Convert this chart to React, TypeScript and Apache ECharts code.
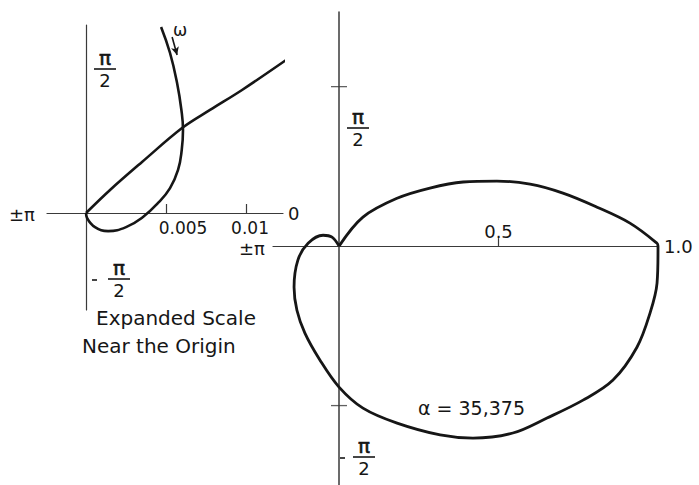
import { useEffect, useRef } from "react";
import * as echarts from "echarts";

// Expanded view near the origin: the spiral branch and the chord
const insetSpiral: [number, number][] = [
  [0, 0], [0.00006, -0.0003], [0.00056, -0.00088], [0.00138, -0.00113],
  [0.0025, -0.00088], [0.00356, -0.00025], [0.0045, 0.00063], [0.00525, 0.00156],
  [0.00575, 0.00269], [0.00598, 0.00394], [0.00606, 0.00519], [0.00596, 0.00644],
  [0.00569, 0.00813], [0.00525, 0.01], [0.00469, 0.01163],
];
const insetChord: [number, number][] = [
  [0, 0], [0.0015, 0.00144], [0.0035, 0.00319], [0.006, 0.00531],
  [0.00775, 0.00644], [0.00975, 0.00769], [0.0125, 0.00956],
];
// Direction of increasing frequency along the spiral
const omegaArrow: [number, number][] = [[0.00538, 0.011], [0.00569, 0.00988]];

// Full-scale locus: upper arc from origin to 1.0, then the lower loop
const upperArc: [number, number][] = [
  [0, 0], [0.075, 0.091], [0.182, 0.15], [0.285, 0.182], [0.389, 0.201],
  [0.495, 0.204], [0.599, 0.194], [0.702, 0.166], [0.809, 0.122],
  [0.912, 0.072], [0.997, 0.009], [1.0, 0],
];
const lowerLoop: [number, number][] = [
  [0, 0], [-0.022, 0.028], [-0.05, 0.034], [-0.097, 0.009], [-0.129, -0.044],
  [-0.141, -0.129], [-0.132, -0.201], [-0.107, -0.273], [-0.06, -0.357],
  [0, -0.442], [0.075, -0.508], [0.182, -0.555], [0.317, -0.592],
  [0.42, -0.602], [0.545, -0.586], [0.652, -0.539], [0.765, -0.483],
  [0.859, -0.42], [0.934, -0.317], [0.975, -0.21], [0.997, -0.116],
  [1.0, -0.013], [1.0, 0],
];

const insetTicks = [0.005, 0.01];
const insetTickLabels = ["0.005", "0.01"];
const mainXTicks = [0.5];
const mainXTickLabels = ["0.5"];
const mainYTicks = [0.5, -0.5];

const FONT = "DejaVu Sans";
const INK = "#161616";
const AXIS = "#3a3a3a";

function fraction(cx: number, barY: number, minusX?: number) {
  const children: any[] = [
    {
      type: "text",
      style: {
        text: "π", x: cx, y: barY - 1, align: "center", verticalAlign: "bottom",
        font: `20px '${FONT}'`, fill: INK, stroke: INK, lineWidth: 0.6,
      },
    },
    {
      type: "line",
      shape: { x1: cx - 11, y1: barY, x2: cx + 11, y2: barY },
      style: { stroke: INK, lineWidth: 1.6 },
    },
    {
      type: "text",
      style: {
        text: "2", x: cx, y: barY + 2, align: "center", verticalAlign: "top",
        font: `18px '${FONT}'`, fill: INK,
      },
    },
  ];
  if (minusX !== undefined) {
    children.push({
      type: "line",
      shape: { x1: minusX, y1: barY + 1, x2: minusX + 5, y2: barY + 1 },
      style: { stroke: INK, lineWidth: 1.6 },
    });
  }
  return { type: "group", children };
}

function label(text: string, x: number, y: number, size: number, align = "left", vAlign = "middle") {
  return {
    type: "text",
    style: {
      text, x, y, align, verticalAlign: vAlign,
      font: `${size}px '${FONT}'`, fill: INK,
    },
  };
}

export default function App() {
  const ref = useRef<HTMLDivElement>(null);

  useEffect(() => {
    if (!ref.current) return;
    const chart = echarts.init(ref.current, undefined, { renderer: "svg" });

    const axisLine = { onZero: true, lineStyle: { color: AXIS, width: 1.2 } };
    const nameStyle = { fontFamily: FONT, fontSize: 18, color: INK };

    chart.setOption({
      animation: false,
      backgroundColor: "#ffffff",
      grid: [
        { left: 47, top: 25, width: 236, height: 285, containLabel: false, outerBoundsMode: "none" },
        { left: 273, top: 12, width: 385, height: 473, containLabel: false, outerBoundsMode: "none" },
      ],
      xAxis: [
        {
          gridIndex: 0, type: "value", min: -0.00244, max: 0.01231, position: "bottom",
          axisLine,
          axisTick: { show: true, inside: true, length: 9, customValues: insetTicks, lineStyle: { color: AXIS, width: 1.2 } },
          axisLabel: { show: false },
          splitLine: { show: false },
          name: "0", nameLocation: "end", nameGap: 5, nameTextStyle: nameStyle,
        },
        {
          gridIndex: 1, type: "value", min: -0.207, max: 1.0, position: "top",
          axisLine,
          axisTick: { show: true, inside: false, length: 8, customValues: mainXTicks, lineStyle: { color: AXIS, width: 1.2 } },
          axisLabel: { show: false },
          splitLine: { show: false },
          name: "1.0", nameLocation: "end", nameGap: 6, nameTextStyle: nameStyle,
        },
      ],
      yAxis: [
        {
          gridIndex: 0, type: "value", min: -0.00606, max: 0.01175,
          axisLine, axisTick: { show: false }, axisLabel: { show: false }, splitLine: { show: false },
        },
        {
          gridIndex: 1, type: "value", min: -0.749, max: 0.734,
          axisLine: { onZero: true, lineStyle: { color: AXIS, width: 1.5 } },
          axisTick: { show: false }, axisLabel: { show: false }, splitLine: { show: false },
        },
      ],
      series: [
        {
          type: "line", xAxisIndex: 0, yAxisIndex: 0, data: insetSpiral, smooth: 0.45,
          symbol: "none", clip: false, lineStyle: { color: INK, width: 2.6 },
          markLine: {
            silent: true, symbol: ["none", "arrow"], symbolSize: [6, 8], label: { show: false },
            lineStyle: { color: INK, width: 1.6, type: "solid" },
            data: [[{ coord: omegaArrow[0] }, { coord: omegaArrow[1] }]],
          },
        },
        {
          type: "line", xAxisIndex: 0, yAxisIndex: 0, data: insetChord, smooth: 0.35,
          symbol: "none", clip: false, lineStyle: { color: INK, width: 2.6 },
        },
        {
          type: "line", xAxisIndex: 1, yAxisIndex: 1, data: upperArc, smooth: 0.35,
          symbol: "none", clip: false, lineStyle: { color: INK, width: 2.8 },
        },
        {
          type: "line", xAxisIndex: 1, yAxisIndex: 1, data: lowerLoop, smooth: 0.35,
          symbol: "none", clip: false, lineStyle: { color: INK, width: 2.8 },
        },
        {
          type: "scatter", xAxisIndex: 1, yAxisIndex: 1,
          data: mainYTicks.map((v) => [0, v]),
          symbol: "rect", symbolSize: [16, 1.3], silent: true,
          itemStyle: { color: AXIS },
        },
      ],
    });

    // Tick labels sit on the zero lines, so place them from the axes' own scales
    const insetLabelShift = [17, 4];
    const tickTexts: any[] = [];
    insetTicks.forEach((v, i) => {
      const [px, py] = chart.convertToPixel({ xAxisIndex: 0, yAxisIndex: 0 }, [v, 0]) as number[];
      tickTexts.push(label(insetTickLabels[i], px + insetLabelShift[i], py + 15, 17, "center", "middle"));
    });
    mainXTicks.forEach((v, i) => {
      const [px, py] = chart.convertToPixel({ xAxisIndex: 1, yAxisIndex: 1 }, [v, 0]) as number[];
      tickTexts.push(label(mainXTickLabels[i], px, py - 6, 18, "center", "bottom"));
    });

    chart.setOption({
      graphic: [
        ...tickTexts,
        label("±π", 9, 214, 18),
        label("±π", 239, 248, 18),
        fraction(105, 69),
        fraction(119, 279, 92),
        fraction(358, 128),
        fraction(364, 457, 340),
        label("ω", 180, 30, 17, "center"),
        label("Expanded Scale", 96, 318, 20),
        label("Near the Origin", 82, 346, 20),
        label("α = 35,375", 418, 408, 19),
      ],
    });

    return () => chart.dispose();
  }, []);

  return (
    <div
      ref={ref}
      style={{ position: "fixed", left: 0, top: 0, width: 699, height: 485, background: "#fff" }}
    />
  );
}
